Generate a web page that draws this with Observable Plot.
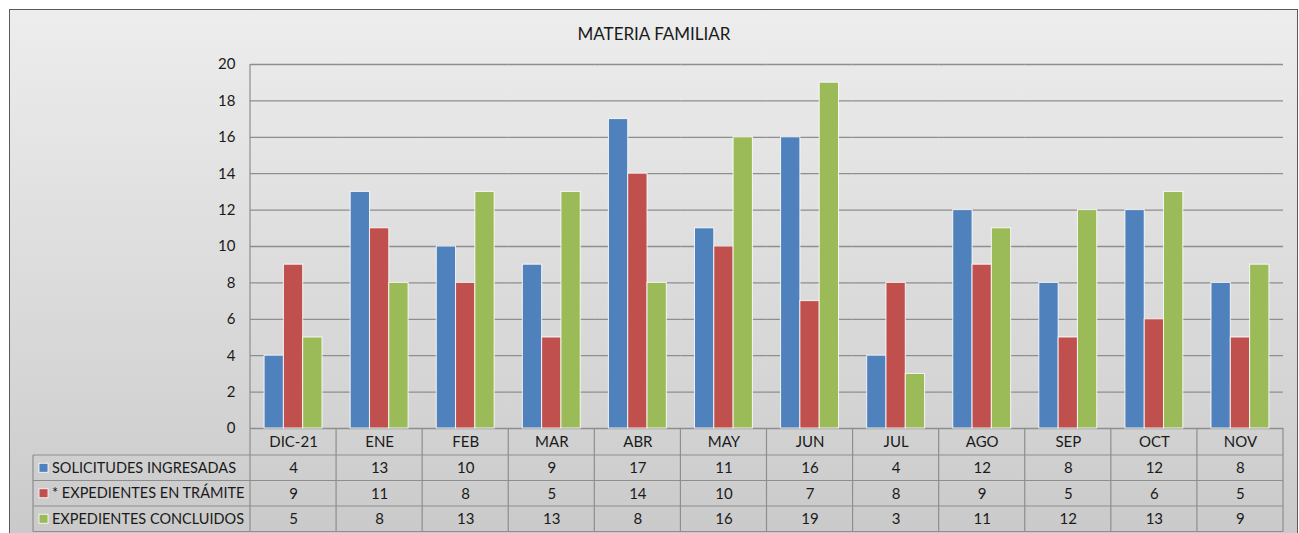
<!DOCTYPE html>
<html>
<head>
<meta charset="utf-8">
<script src="https://cdn.jsdelivr.net/npm/d3@7"></script>
<script src="https://cdn.jsdelivr.net/npm/@observablehq/plot@0.6"></script>
<style>
  body { margin: 0; background: #ffffff; font-family: Lato, "Open Sans", sans-serif; }
  #wrap { position: relative; width: 1299px; height: 533px; overflow: hidden; }
  #bg { position: absolute; left: 9px; top: 9px; width: 1289px; height: 600px; box-sizing: border-box;
        border: 1px solid #5a5a5a; background: linear-gradient(#ededed 0%, #d2d2d2 70%, #c4c4c4 100%); }
  #title { position: relative; height: 55px; box-sizing: border-box; padding-top: 23px; padding-left: 9px;
           text-align: center; font-size: 17px; line-height: 22px; color: #1a1a1a; }
  #chart { position: relative; }
  #chart svg { background: none !important; display: block; }
</style>
</head>
<body>
<div id="wrap">
  <div id="bg"></div>
  <div id="title">MATERIA FAMILIAR</div>
  <div id="chart"></div>
</div>
<script>
const categories = ["DIC-21", "ENE", "FEB", "MAR", "ABR", "MAY", "JUN", "JUL", "AGO", "SEP", "OCT", "NOV"];
const seriesNames = ["SOLICITUDES INGRESADAS", "* EXPEDIENTES EN TRÁMITE", "EXPEDIENTES CONCLUIDOS"];
const solicitudes = [4, 13, 10, 9, 17, 11, 16, 4, 12, 8, 12, 8];
const enTramite = [9, 11, 8, 5, 14, 10, 7, 8, 9, 5, 6, 5];
const concluidos = [5, 8, 13, 13, 8, 16, 19, 3, 11, 12, 13, 9];
const seriesColors = ["#4f81bd", "#c0504d", "#9bbb59"];
const yTicks = [0, 2, 4, 6, 8, 10, 12, 14, 16, 18, 20];

const seriesValues = [solicitudes, enTramite, concluidos];
const rows = [];
seriesValues.forEach((vals, si) => {
  vals.forEach((v, ci) => rows.push({cat: categories[ci], series: seriesNames[si], value: v}));
});

const rowDy = [40, 65.5, 91];
const textMarks = seriesNames.map((s, i) =>
  Plot.text(rows.filter(d => d.series === s), {
    fx: "cat", text: d => String(d.value), frameAnchor: "bottom", lineAnchor: "middle", dy: rowDy[i],
    fill: "#1a1a1a", fontSize: 15
  })
);

const plot = Plot.plot({
  width: 1299,
  height: 478,
  marginLeft: 250,
  marginRight: 16,
  marginTop: 9,
  marginBottom: 105,
  style: {fontFamily: "Lato, 'Open Sans', sans-serif", fontSize: "15px", color: "#1a1a1a", background: "none"},
  fx: {domain: categories, padding: 0, axis: "bottom", label: null, tickSize: 0, tickPadding: 8, round: false},
  x: {domain: seriesNames, paddingInner: 0, paddingOuter: 0.73, axis: null, round: false},
  y: {domain: [0, 20], ticks: yTicks, tickSize: 0, tickPadding: 15, label: null},
  color: {domain: seriesNames, range: seriesColors},
  marks: [
    Plot.ruleY(yTicks, {stroke: "#8e8e8e", strokeWidth: 1.3}),
    Plot.barY(rows, {fx: "cat", x: "series", y: "value", fill: "series", stroke: "#ffffff", strokeWidth: 1, strokeOpacity: 0.85}),
    ...textMarks
  ]
});
document.getElementById("chart").appendChild(plot);

// Data table grid + row labels, positioned from Plot's own scales
const fx = plot.scale("fx");
const ys = plot.scale("y");
const svg = d3.select(plot);
const g = svg.append("g").attr("stroke", "#8e8e8e").attr("stroke-width", 1.2);
const y0 = ys.apply(0);
const yTop = ys.apply(20);
const lineYs = [y0 + 27, y0 + 52.5, y0 + 78, y0 + 103.5];
const xLeft = fx.apply(categories[0]);
const xRight = fx.apply(categories[categories.length - 1]) + fx.bandwidth;
const labelLeft = 33;
lineYs.forEach(yy => g.append("line").attr("x1", labelLeft).attr("x2", xRight).attr("y1", yy).attr("y2", yy));
g.append("line").attr("x1", labelLeft).attr("x2", labelLeft).attr("y1", lineYs[0]).attr("y2", lineYs[3]);
g.append("line").attr("x1", xLeft).attr("x2", xLeft).attr("y1", yTop).attr("y2", lineYs[3]);
categories.forEach(c => {
  const xr = fx.apply(c) + fx.bandwidth;
  g.append("line").attr("x1", xr).attr("x2", xr).attr("y1", y0).attr("y2", lineYs[3]);
});
const color = plot.scale("color");
seriesNames.forEach((s, i) => {
  const cy = (lineYs[i] + lineYs[i + 1]) / 2;
  svg.append("rect").attr("x", 39).attr("y", cy - 4.5).attr("width", 9).attr("height", 9)
    .attr("fill", color.apply(s)).attr("stroke", "#ffffff").attr("stroke-width", 0.8);
  svg.append("text").attr("x", 52).attr("y", cy).attr("dy", "0.35em").attr("text-anchor", "start")
    .attr("font-size", 14.5).attr("fill", "#1a1a1a").text(s);
});
</script>
</body>
</html>
